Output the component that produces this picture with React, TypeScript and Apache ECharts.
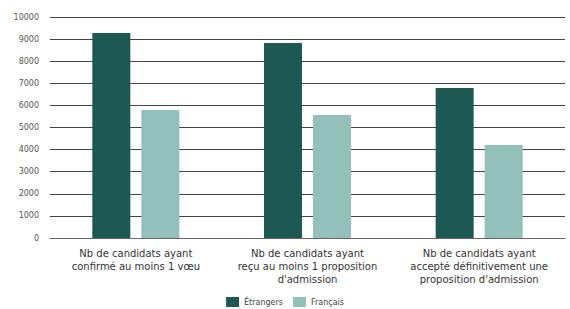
import React, { useEffect, useRef } from "react";
import * as echarts from "echarts";

const categories = [
  "Nb de candidats ayant\nconfirmé au moins 1 vœu",
  "Nb de candidats ayant\nreçu au moins 1 proposition\nd'admission",
  "Nb de candidats ayant\naccepté définitivement une\nproposition d'admission",
];
const seriesNames = ["Étrangers", "Français"];
const etrangers = [9280, 8820, 6790];
const francais = [5790, 5570, 4210];
const colors = ["#1c5953", "#93c0ba"];

export default function App() {
  const ref = useRef<HTMLDivElement>(null);
  useEffect(() => {
    if (!ref.current) return;
    const chart = echarts.init(ref.current, null, { renderer: "svg" });
    const font = "'DejaVu Sans', 'Noto Sans', sans-serif";
    chart.setOption({
      animation: false,
      textStyle: { fontFamily: font },
      grid: { left: 50, right: 5, top: 17, bottom: 71, containLabel: false },
      legend: {
        bottom: -3,
        left: "center",
        itemWidth: 13,
        itemHeight: 10,
        itemGap: 10,
        icon: "rect",
        textStyle: { fontSize: 8, color: "#444", fontFamily: font },
        data: seriesNames,
      },
      xAxis: {
        type: "category",
        data: categories,
        axisTick: { show: false },
        axisLine: { show: true, lineStyle: { color: "#666", width: 1 } },
        axisLabel: {
          fontSize: 10,
          color: "#333",
          lineHeight: 13,
          margin: 9,
          interval: 0,
          fontFamily: font,
        },
      },
      yAxis: {
        type: "value",
        min: 0,
        max: 10000,
        interval: 1000,
        axisLine: { show: false },
        axisTick: { show: false },
        axisLabel: {
          fontSize: 8,
          color: "#555",
          margin: 11,
          fontFamily: font,
          formatter: (v: number) => String(v),
        },
        splitLine: { lineStyle: { color: "#444", width: 1 } },
      },
      series: [
        {
          name: seriesNames[0],
          type: "bar",
          data: etrangers,
          barWidth: 38,
          barGap: "29%",
          itemStyle: { color: colors[0] },
        },
        {
          name: seriesNames[1],
          type: "bar",
          data: francais,
          barWidth: 38,
          barGap: "29%",
          itemStyle: { color: colors[1] },
        },
      ],
    });
    return () => chart.dispose();
  }, []);
  return <div ref={ref} style={{ width: 570, height: 309, position: "absolute", left: 0, top: 0 }} />;
}
